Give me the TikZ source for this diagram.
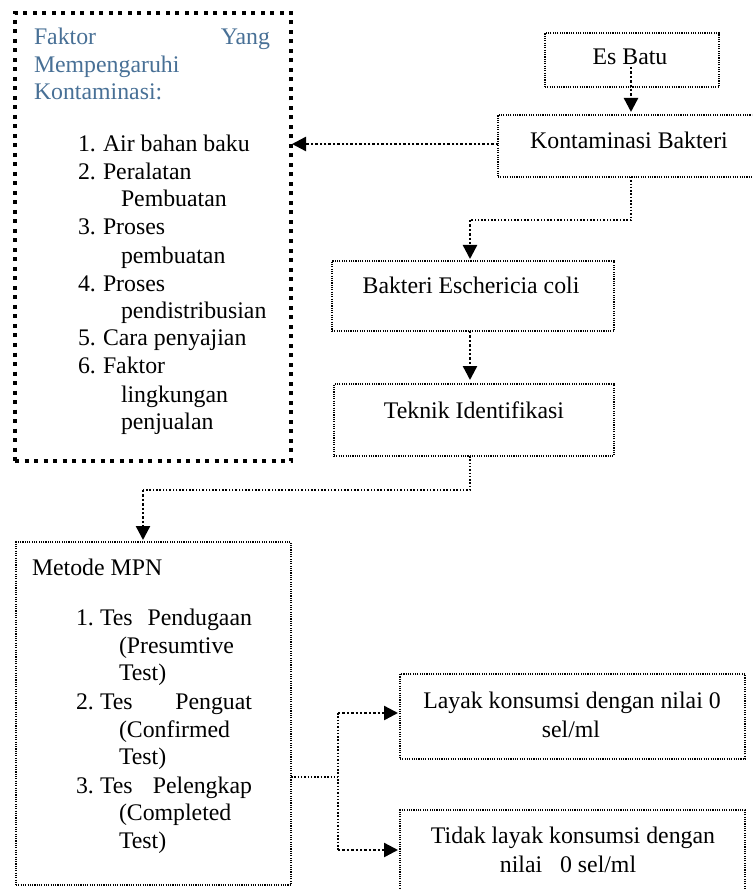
\documentclass[tikz,border=0pt]{standalone}
\usepackage{fontspec}
\setmainfont{Liberation Serif}
\usetikzlibrary{arrows.meta,calc}
\definecolor{headblue}{RGB}{72,112,150}
\begin{document}
\begin{tikzpicture}[x=1pt,y=-1pt,
  every node/.style={inner sep=0pt,outer sep=0pt,font=\fontsize{23.8}{27.7}\selectfont},
  box/.style={draw,line width=1.1pt,dash pattern=on 1.1pt off 1.2pt,anchor=north west},
  bigbox/.style={draw,line width=4pt,dash pattern=on 4pt off 5.5pt,anchor=north west},
  thinlink/.style={line width=1.5pt,dash pattern=on 1.5pt off 1.8pt},
  arrlink/.style={line width=2.4pt,dash pattern=on 2.4pt off 2pt,-{Triangle[length=14pt,width=14pt]}},
  tl/.style={anchor=base west},
  tr/.style={anchor=base east},
  tc/.style={anchor=base},
  head/.style={anchor=base west,text=headblue},
]
\useasboundingbox (0,0) rectangle (752,890);
\clip (0,0) rectangle (752,890);

% boxes
\node[bigbox,minimum width=276pt,minimum height=448pt] (factor) at (15,13) {};
\node[box,minimum width=174pt,minimum height=54pt] (esbatu) at (545,33) {};
\node[box,minimum width=262pt,minimum height=62pt] (kontam) at (498,115) {};
\node[box,minimum width=282pt,minimum height=70pt] (bakteri) at (332,261) {};
\node[box,minimum width=280pt,minimum height=72pt] (teknik) at (334,384) {};
\node[box,minimum width=275pt,minimum height=343pt] (metode) at (16,542) {};
\node[box,minimum width=345pt,minimum height=85pt] (layak) at (400,674) {};
\node[box,minimum width=345pt,minimum height=95pt] (tidak) at (400,810) {};

% factor box texts
\node[head] (h1) at (34,45) {Faktor};
\node[anchor=base east,text=headblue] (h2) at (270,45) {Yang};
\node[head] (h3) at (34,73) {Mempengaruhi};
\node[head] (h4) at (34,100) {Kontaminasi:};

\node[tl] (fn1) at (78,152) {1.};
\node[tl] (ft1) at (103,152) {Air bahan baku};
\node[tl] (fn2) at (78,180) {2.};
\node[tl] (ft2) at (103,180) {Peralatan};
\node[tl] (ft2b) at (121,207) {Pembuatan};
\node[tl] (fn3) at (78,235) {3.};
\node[tl] (ft3) at (103,235) {Proses};
\node[tl] (ft3b) at (121,263) {pembuatan};
\node[tl] (fn4) at (78,291) {4.};
\node[tl] (ft4) at (103,291) {Proses};
\node[tl] (ft4b) at (121,318) {pendistribusian};
\node[tl] (fn5) at (78,345) {5.};
\node[tl] (ft5) at (103,345) {Cara penyajian};
\node[tl] (fn6) at (78,373) {6.};
\node[tl] (ft6) at (103,373) {Faktor};
\node[tl] (ft6b) at (121,402) {lingkungan};
\node[tl] (ft6c) at (121,429) {penjualan};

% simple box texts
\node[tc] (tes) at (630,65) {Es Batu};
\node[tc] (tko) at (629,149) {Kontaminasi Bakteri};
\node[tc] (tba) at (471,293) {Bakteri Eschericia coli};
\node[tc] (tte) at (474,418) {Teknik Identifikasi};
\node[tc] (tla1) at (572,708) {Layak konsumsi dengan nilai 0};
\node[tc] (tla2) at (571,737) {sel/ml};
\node[tc] (tti1) at (573,843) {Tidak layak konsumsi dengan};
\node[tc] (tti2) at (568,872) {nilai\ \ \ 0 sel/ml};

% metode texts
\node[tl] (mh) at (32,575) {Metode MPN};
\node[tl] (mn1) at (76,625) {1.};
\node[tl] (ma1) at (100,625) {Tes};
\node[tr] (mb1) at (252,625) {Pendugaan};
\node[tl] (mc1) at (119,653) {(Presumtive};
\node[tl] (md1) at (119,680) {Test)};
\node[tl] (mn2) at (76,709) {2.};
\node[tl] (ma2) at (100,709) {Tes};
\node[tr] (mb2) at (252,709) {Penguat};
\node[tl] (mc2) at (119,737) {(Confirmed};
\node[tl] (md2) at (119,764) {Test)};
\node[tl] (mn3) at (76,793) {3.};
\node[tl] (ma3) at (100,793) {Tes};
\node[tr] (mb3) at (252,793) {Pelengkap};
\node[tl] (mc3) at (119,820) {(Completed};
\node[tl] (md3) at (119,848) {Test)};

% connectors
\coordinate (esb) at ($(esbatu.south west)+(86,-20)$);
\draw[arrlink,shorten >=3pt] (esb) -- (esb |- kontam.north);

\coordinate (kf) at ($(kontam.west)+(0,-2)$);
\draw[arrlink,shorten >=1pt] (kf) -- (kf -| factor.east);

\coordinate (kb1) at ($(kontam.south west)+(133,0)$);
\coordinate (kb2) at ($(bakteri.north west)+(138,-41)$);
\draw[thinlink] (kb1) |- (kb2);
\draw[arrlink,shorten >=2pt] (kb2) -- (kb2 |- bakteri.north);

\coordinate (bt) at ($(bakteri.south west)+(138,0)$);
\draw[arrlink,shorten >=4pt] (bt) -- (bt |- teknik.north);

\coordinate (tm1) at ($(teknik.south west)+(136,0)$);
\coordinate (tm2) at ($(metode.north west)+(127,-52)$);
\draw[thinlink] (tm1) |- (tm2);
\draw[arrlink,shorten >=2pt] (tm2) -- (tm2 |- metode.north);

\coordinate (ms) at ($(metode.north east)+(0,235)$);
\coordinate (mj) at ($(ms)+(47,0)$);
\coordinate (mt) at ($(mj)+(0,-64)$);
\coordinate (mb) at ($(mj)+(0,73)$);
\draw[thinlink] (ms) -- (mj);
\draw[thinlink] (mt) -- (mb);
\draw[arrlink,shorten >=2pt] (mt) -- (mt -| layak.west);
\draw[arrlink,shorten >=2pt] (mb) -- (mb -| tidak.west);
\end{tikzpicture}
\end{document}
